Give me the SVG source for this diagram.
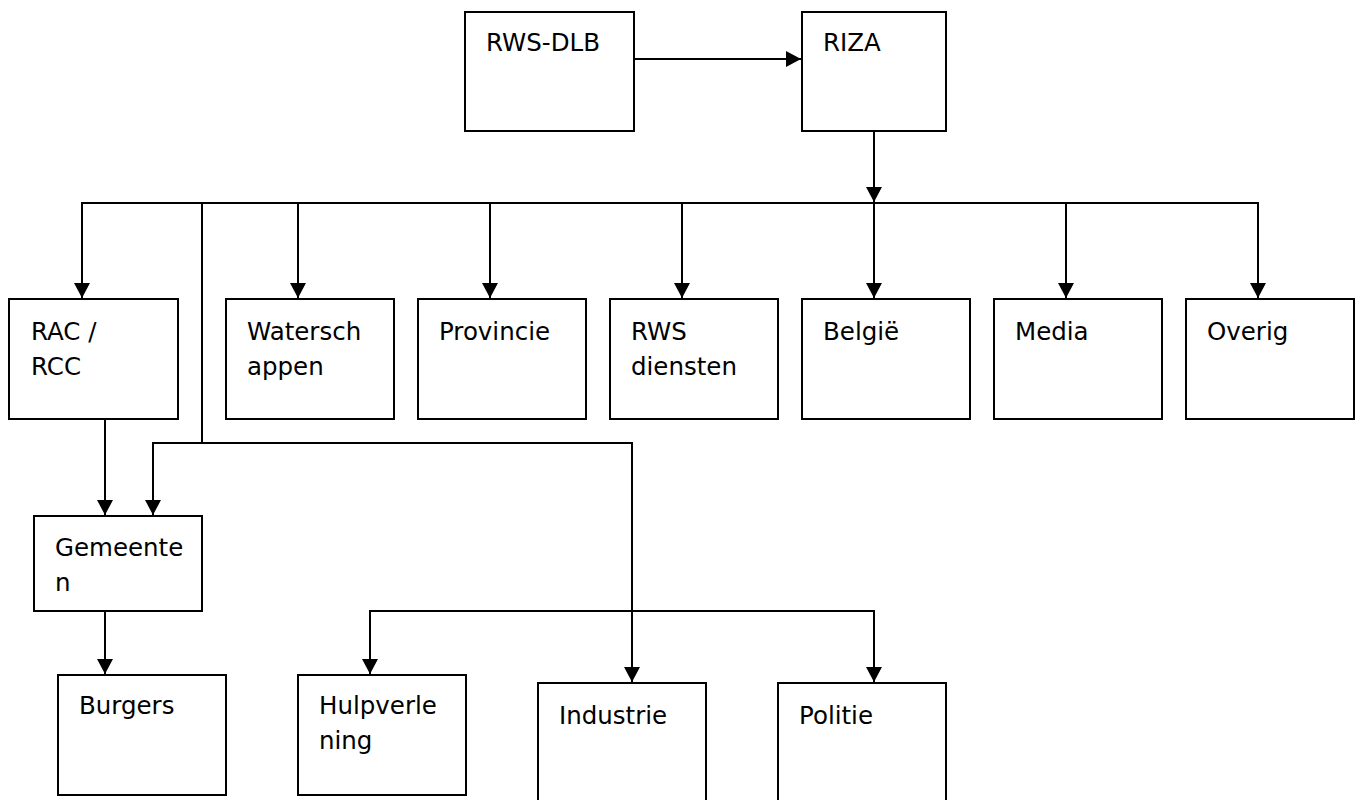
<svg xmlns="http://www.w3.org/2000/svg" width="1361" height="800" viewBox="0 0 1361 800">
<style>
.box{fill:#fff;stroke:#000;stroke-width:2}
.lbl{font-family:"DejaVu Sans",sans-serif;font-size:24.5px;fill:#000}
.con{fill:none;stroke:#000;stroke-width:2}
</style>
<defs>
<marker id="ah" viewBox="0 0 15 16" refX="15" refY="8" markerWidth="7.5" markerHeight="8" orient="auto" markerUnits="strokeWidth">
<path d="M0,0 L15,8 L0,16 Z" fill="#000"/>
</marker>
</defs>
<rect width="1361" height="800" fill="#fff"/>
<g id="connectors">
<path class="con" d="M634,59 H801" marker-end="url(#ah)"/>
<path class="con" d="M874,131 V202" marker-end="url(#ah)"/>
<path class="con" d="M82,298 V203 H1258 V298" marker-end="url(#ah)"/>
<path class="con" d="M82,203 V298" marker-end="url(#ah)"/>
<path class="con" d="M298,203 V298" marker-end="url(#ah)"/>
<path class="con" d="M490,203 V298" marker-end="url(#ah)"/>
<path class="con" d="M682,203 V298" marker-end="url(#ah)"/>
<path class="con" d="M874,203 V298" marker-end="url(#ah)"/>
<path class="con" d="M1066,203 V298" marker-end="url(#ah)"/>
<path class="con" d="M202,203 V443 H632 V682" marker-end="url(#ah)"/>
<path class="con" d="M202,443 H153 V515" marker-end="url(#ah)"/>
<path class="con" d="M105,419 V515" marker-end="url(#ah)"/>
<path class="con" d="M105,611 V674" marker-end="url(#ah)"/>
<path class="con" d="M370,674 V611 H874 V682" marker-end="url(#ah)"/>
<path class="con" d="M370,611 V674" marker-end="url(#ah)"/>
</g>
<g id="rws-dlb"><rect class="box" x="465" y="12" width="169" height="119"/><text class="lbl" x="486" y="51">RWS-DLB</text></g>
<g id="riza"><rect class="box" x="802" y="12" width="144" height="119"/><text class="lbl" x="823" y="51">RIZA</text></g>
<g id="rac-rcc"><rect class="box" x="9" y="299" width="169" height="120"/><text class="lbl" x="31" y="340">RAC /</text><text class="lbl" x="31" y="375">RCC</text></g>
<g id="waterschappen"><rect class="box" x="226" y="299" width="168" height="120"/><text class="lbl" x="247" y="340">Watersch</text><text class="lbl" x="247" y="375">appen</text></g>
<g id="provincie"><rect class="box" x="418" y="299" width="168" height="120"/><text class="lbl" x="439" y="340">Provincie</text></g>
<g id="rws-diensten"><rect class="box" x="610" y="299" width="168" height="120"/><text class="lbl" x="631" y="340">RWS</text><text class="lbl" x="631" y="375">diensten</text></g>
<g id="belgie"><rect class="box" x="802" y="299" width="168" height="120"/><text class="lbl" x="823" y="340">België</text></g>
<g id="media"><rect class="box" x="994" y="299" width="168" height="120"/><text class="lbl" x="1015" y="340">Media</text></g>
<g id="overig"><rect class="box" x="1186" y="299" width="168" height="120"/><text class="lbl" x="1207" y="340">Overig</text></g>
<g id="gemeenten"><rect class="box" x="34" y="516" width="168" height="95"/><text class="lbl" x="55" y="556">Gemeente</text><text class="lbl" x="55" y="591">n</text></g>
<g id="burgers"><rect class="box" x="58" y="675" width="168" height="120"/><text class="lbl" x="79" y="714">Burgers</text></g>
<g id="hulpverlening"><rect class="box" x="298" y="675" width="168" height="120"/><text class="lbl" x="319" y="714">Hulpverle</text><text class="lbl" x="319" y="749">ning</text></g>
<g id="industrie"><rect class="box" x="538" y="683" width="168" height="122"/><text class="lbl" x="559" y="724">Industrie</text></g>
<g id="politie"><rect class="box" x="778" y="683" width="168" height="122"/><text class="lbl" x="799" y="724">Politie</text></g>
</svg>
